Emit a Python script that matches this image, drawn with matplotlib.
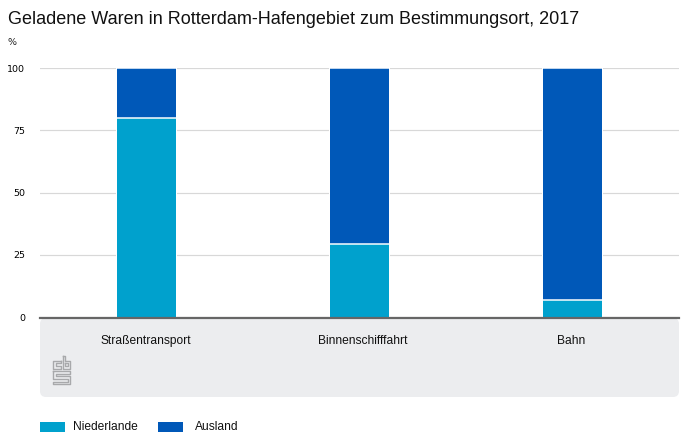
import matplotlib
matplotlib.use("Agg")
import matplotlib.pyplot as plt
from matplotlib.patches import FancyBboxPatch, Rectangle
from matplotlib.lines import Line2D
from matplotlib.transforms import ScaledTranslation

categories = ["Straßentransport", "Binnenschifffahrt", "Bahn"]
niederlande = [80, 29.4, 7]
ausland = [20, 70.6, 93]
yticks = [0, 25, 50, 75, 100]
TITLE = "Geladene Waren in Rotterdam-Hafengebiet zum Bestimmungsort, 2017"

C_NL, C_AUS = "#00a1cd", "#0058b8"
W, H = 693, 444
plt.rcParams["font.family"] = ["Liberation Sans", "DejaVu Sans"]
fig = plt.figure(figsize=(W / 100, H / 100), dpi=100)
px = lambda v: v * 72 / 100

L, R, T, B = 40, 679, 68.3, 317.1
ax = fig.add_axes([L / W, 1 - B / H, (R - L) / W, (B - T) / H])
ax.set_xlim(-0.5, 2.5)
ax.set_ylim(0, 100)
for s in ax.spines.values():
    s.set_visible(False)

panel = FancyBboxPatch((L + 6, H - 397 + 6), R - L - 12, 397 - 318 - 12,
                       boxstyle="round,pad=6,rounding_size=6",
                       transform=None, fc="#ecedef", ec="none", zorder=0)
fig.add_artist(panel)

ax.set_axisbelow(True)
ax.yaxis.grid(True, color="#d8d8d8", lw=px(1.2))
ax.xaxis.grid(False)
ax.set_yticks(yticks)
ax.tick_params(axis="y", length=0, pad=px(15), labelsize=px(9.5))
for t in ax.get_yticklabels():
    t.set_family("DejaVu Sans")
ax.set_xticks(range(3))
ax.set_xticklabels(categories, fontsize=px(12), color="#111111")
ax.tick_params(axis="x", length=0, pad=px(18))
for lab, dx in zip(ax.get_xticklabels(), [-1, 3, -1]):
    lab.set_transform(lab.get_transform() + ScaledTranslation(dx / 100, 0, fig.dpi_scale_trans))

w = 59 / 213
x = list(range(3))
ax.bar(x, niederlande, width=w, color=C_NL, lw=0, zorder=3)
ax.bar(x, ausland, width=w, bottom=niederlande, color=C_AUS, lw=0, zorder=3)
for xi, n in zip(x, niederlande):
    ax.bar(xi, 100, width=w * 1.04, color="white", lw=0, zorder=2)
    for level in (n, 100):
        ax.plot([xi - w / 2, xi + w / 2], [level, level], color="white", lw=px(1.5), zorder=4,
                solid_capstyle="butt", clip_on=False)
ax.axhline(-0.4, color="#666666", lw=px(2.2), zorder=5, clip_on=False)

fig.text(8 / W, 1 - 19 / H, TITLE, fontsize=px(17.97), color="#111111", va="center", ha="left")
fig.text(8 / W, 1 - 42.5 / H, "%", fontsize=px(9.5), color="#222222", va="center", ha="left",
         family="DejaVu Sans")

for x0, col, lab, tx in [(40, C_NL, "Niederlande", 73), (158, C_AUS, "Ausland", 194.5)]:
    fig.add_artist(Rectangle((x0, H - 432), 25, 10, transform=None, fc=col, ec="none"))
    fig.text(tx / W, 1 - 426.5 / H, lab, fontsize=px(12), color="#111111", va="center", ha="left")

logo = [
    [(61, 360.5), (52.5, 360.5), (52.5, 368.5), (61, 368.5), (61, 366), (55.5, 366), (55.5, 363), (61, 363), (61, 360.5)],
    [(62.5, 356), (65, 356), (65, 360.5), (70, 360.5), (70, 368.5), (62.5, 368.5), (62.5, 356)],
    [(65, 363), (67.5, 363), (67.5, 366), (65, 366), (65, 363)],
    [(52.5, 371), (70, 371), (70, 373.5), (55.5, 373.5), (55.5, 376), (70, 376), (70, 384),
     (52.5, 384), (52.5, 381.5), (67.5, 381.5), (67.5, 378.5), (52.5, 378.5), (52.5, 371)],
]
for seg in logo:
    xs, ys = zip(*seg)
    fig.add_artist(Line2D(xs, [H - y for y in ys], transform=None, color="#a8a9ab", lw=px(1.4)))

fig.savefig("out.png", dpi=100)
